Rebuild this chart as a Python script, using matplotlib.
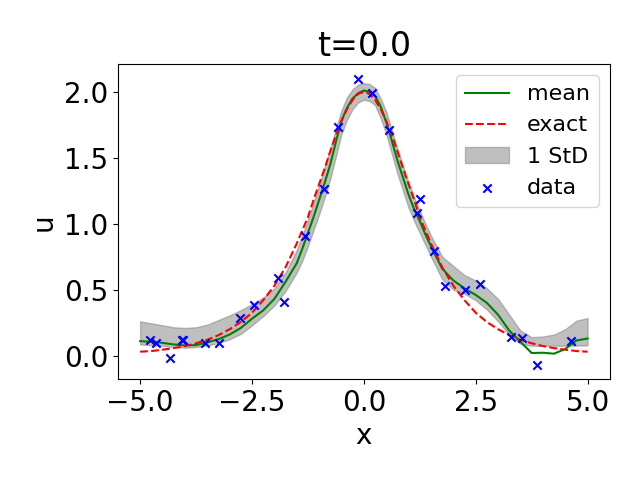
import numpy as np
import matplotlib
matplotlib.use("Agg")
import matplotlib.pyplot as plt

# grid on which curves were read (finer around the peak)
x_grid = [-5.0, -4.75, -4.5, -4.25, -4.0, -3.75, -3.5, -3.25, -3.0, -2.75, -2.5,
          -2.25, -2.0, -1.75, -1.5, -1.375, -1.25, -1.125, -1.0, -0.875, -0.75,
          -0.625, -0.5, -0.375, -0.25, -0.125, 0.0,
          0.125, 0.25, 0.375, 0.5, 0.625, 0.75, 0.875, 1.0, 1.125, 1.25, 1.375,
          1.5, 1.75, 2.0, 2.25, 2.5,
          2.75, 3.0, 3.25, 3.5, 3.75, 4.0, 4.25, 4.5, 4.75, 5.0]

mean_vals = [0.11, 0.105, 0.097, 0.085, 0.077, 0.08, 0.10, 0.125, 0.16, 0.21, 0.28,
             0.343, 0.43, 0.56, 0.70, 0.81, 0.93, 1.05, 1.18, 1.31, 1.45,
             1.62, 1.78, 1.88, 1.95, 1.99, 2.01,
             2.0, 1.97, 1.89, 1.77, 1.63, 1.48, 1.35, 1.22, 1.11, 1.02, 0.92,
             0.83, 0.66, 0.57, 0.51, 0.46,
             0.40, 0.31, 0.19, 0.105, 0.02, 0.022, 0.015, 0.05, 0.115, 0.13]

upper_vals = [0.26, 0.245, 0.23, 0.215, 0.21, 0.215, 0.235, 0.27, 0.305, 0.345, 0.39,
              0.44, 0.51, 0.63, 0.80, 0.91, 1.03, 1.16, 1.29, 1.43, 1.57,
              1.72, 1.86, 1.96, 2.02, 2.055, 2.065,
              2.06, 2.03, 1.95, 1.85, 1.71, 1.57, 1.44, 1.31, 1.20, 1.10, 1.0,
              0.91, 0.75, 0.68, 0.61, 0.57,
              0.51, 0.43, 0.31, 0.19, 0.14, 0.145, 0.16, 0.20, 0.265, 0.285]

lower_vals = [0.085, 0.08, 0.076, 0.065, 0.06, 0.065, 0.078, 0.095, 0.125, 0.165, 0.23,
              0.30, 0.38, 0.49, 0.63, 0.72, 0.83, 0.95, 1.07, 1.20, 1.34,
              1.51, 1.68, 1.79, 1.87, 1.92, 1.94,
              1.93, 1.90, 1.80, 1.68, 1.53, 1.38, 1.25, 1.12, 1.02, 0.93, 0.84,
              0.75, 0.58, 0.50, 0.47, 0.42,
              0.35, 0.26, 0.16, 0.09, 0.075, 0.075, 0.075, 0.075, 0.076, 0.078]

exact_vals = [0.03, 0.035, 0.045, 0.057, 0.073, 0.094, 0.12, 0.155, 0.20, 0.255, 0.325,
              0.42, 0.53, 0.67, 0.85, 0.95, 1.05, 1.18, 1.30, 1.42, 1.55,
              1.67, 1.78, 1.87, 1.94, 1.985, 2.0,
              1.985, 1.94, 1.87, 1.78, 1.67, 1.55, 1.42, 1.30, 1.18, 1.05, 0.95,
              0.85, 0.67, 0.53, 0.42, 0.325,
              0.255, 0.20, 0.155, 0.12, 0.094, 0.073, 0.057, 0.045, 0.035, 0.03]

data_x = [-4.78, -4.64, -4.33, -4.07, -4.04, -3.55, -3.24, -2.77, -2.46, -1.91,
          -1.79, -1.31, -0.88, -0.58, -0.12, 0.19, 0.56, 1.25, 1.19, 1.56,
          1.81, 2.25, 2.60, 3.29, 3.53, 3.87, 4.63]
data_u = [0.12, 0.094, -0.018, 0.12, 0.12, 0.094, 0.094, 0.287, 0.386, 0.59,
          0.41, 0.91, 1.26, 1.73, 2.10, 1.99, 1.71, 1.19, 1.08, 0.79,
          0.53, 0.50, 0.54, 0.145, 0.135, -0.07, 0.11]

plt.rcParams['font.size'] = 20

fig = plt.figure(figsize=(6.4, 4.8), dpi=100)
ax = fig.add_subplot(111)
fig.subplots_adjust(left=0.184, right=0.953, bottom=0.21, top=0.866)

ax.plot(x_grid, mean_vals, color='green', label='mean')
ax.plot(x_grid, exact_vals, 'r--', label='exact')
ax.fill_between(x_grid, lower_vals, upper_vals, color='gray', alpha=0.5, label='1 StD')
ax.scatter(data_x, data_u, marker='x', color='blue', label='data', zorder=3)

ax.set_title('t=0.0')
ax.set_xlabel('x')
ax.set_ylabel('u')
ax.legend(loc='upper right', fontsize=16)

fig.savefig('out.png', dpi=100)
